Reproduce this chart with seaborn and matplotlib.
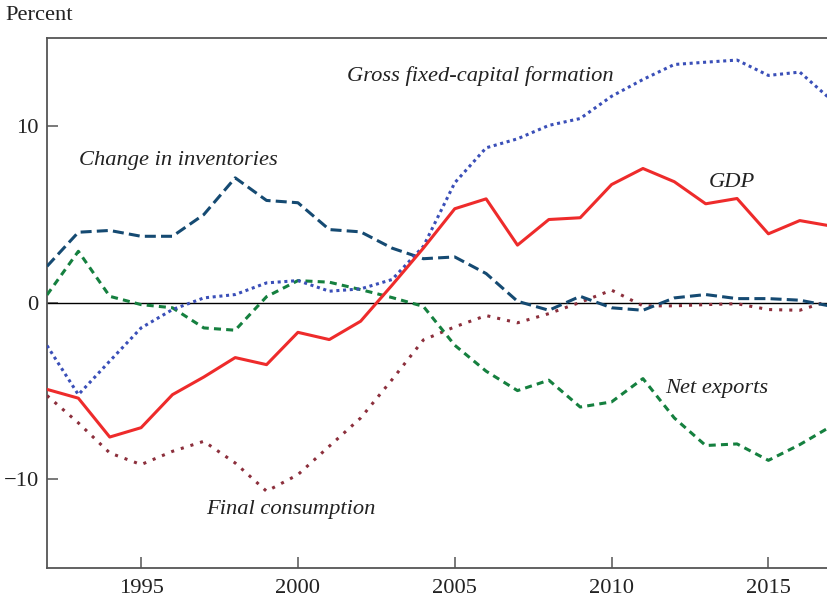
import numpy as np
import pandas as pd
import matplotlib
matplotlib.use("Agg")
import matplotlib.pyplot as plt
import seaborn as sns

# data (percent)
years = list(range(1992, 2018))

gdp = [-4.9, -5.4, -7.6, -7.07, -5.2, -4.2, -3.1, -3.5, -1.67, -2.08, -1.04, 1.0, 3.1,
       5.33, 5.89, 3.27, 4.72, 4.82, 6.7, 7.61, 6.86, 5.61, 5.91, 3.91, 4.66, 4.35]

gross_fixed = [-2.42, -5.2, -3.3, -1.42, -0.38, 0.28, 0.47, 1.13, 1.26, 0.66, 0.79, 1.32, 3.2,
               6.8, 8.78, 9.29, 10.05, 10.44, 11.7, 12.65, 13.5, 13.63, 13.75, 12.88, 13.07, 11.5]

inventories = [2.07, 4.0, 4.1, 3.77, 3.77, 5.0, 7.08, 5.8, 5.67, 4.15, 4.02, 3.1, 2.5,
               2.6, 1.66, 0.09, -0.42, 0.37, -0.28, -0.42, 0.28, 0.47, 0.24, 0.24, 0.15, -0.19]

net_exports = [0.45, 2.92, 0.37, -0.1, -0.28, -1.42, -1.55, 0.35, 1.26, 1.17, 0.75, 0.3, -0.2,
               -2.4, -3.87, -4.97, -4.38, -5.9, -5.61, -4.29, -6.52, -8.08, -7.99, -8.92, -8.03, -6.99]

final_consumption = [-5.25, -6.8, -8.5, -9.16, -8.41, -7.84, -9.07, -10.67, -9.73, -8.12, -6.52, -4.35, -2.1,
                     -1.36, -0.72, -1.13, -0.61, 0.03, 0.72, -0.17, -0.17, -0.1, -0.05, -0.38, -0.42, 0.15]

series_names = ["Gross fixed-capital formation", "Change in inventories", "GDP",
                "Net exports", "Final consumption"]

sns.set_style("ticks")
plt.rcParams['font.family'] = ['Liberation Serif', 'DejaVu Serif']

fig = plt.figure(figsize=(8.28, 5.98), dpi=100)
ax = fig.add_axes([47 / 828, 30.3 / 598, 1 - 47 / 828, (567.7 - 38) / 598])

ax.axhline(0, color='black', lw=1.0, zorder=1)

# draw order: background series first, GDP on top
styles = [
    (final_consumption, '#8c2f3c', (0, (1.0, 2.3)), 2.2),
    (inventories, '#154a72', (0, (3.6, 1.7)), 2.2),
    (net_exports, '#15803f', (0, (2.3, 1.7)), 2.2),
    (gross_fixed, '#3a4fb8', (0, (1.0, 1.2)), 2.2),
    (gdp, '#ee2b2b', '-', 2.2),
]
for vals, col, ls, lw in styles:
    sns.lineplot(x=years, y=vals, ax=ax, color=col, linestyle=ls, lw=lw, zorder=3)

ax.set_xlim(1992, 2016.9)
ax.set_ylim(-15, 15)
ax.set_xticks([1995, 2000, 2005, 2010, 2015])
ax.set_yticks([-10, 0, 10])
ax.set_yticklabels(['\u221210', '0', '10'])
ax.tick_params(direction='in', length=8, width=1.1, color='#555555',
               labelsize=16.2, labelcolor='#222222')
ax.tick_params(axis='x', pad=8)
ax.tick_params(axis='y', pad=6)

for side in ['left', 'bottom', 'top']:
    ax.spines[side].set_color('#555555')
    ax.spines[side].set_linewidth(1.3)
ax.spines['right'].set_visible(False)

# series labels
lab_kw = dict(fontsize=16.2, style='italic', color='#222222', va='center', ha='left')
ax.text(2001.58, 12.85, series_names[0], **lab_kw)
ax.text(1993.02, 8.05, series_names[1], **lab_kw)
ax.text(2013.09, 6.8, series_names[2], **lab_kw)
ax.text(2011.71, -4.87, series_names[3], **lab_kw)
ax.text(1997.08, -11.72, series_names[4], **lab_kw)

fig.text(5 / 828, 1 - 16 / 598, 'Percent', fontsize=16.2, color='#222222',
         va='center', ha='left')

fig.savefig('out.png', dpi=100)
